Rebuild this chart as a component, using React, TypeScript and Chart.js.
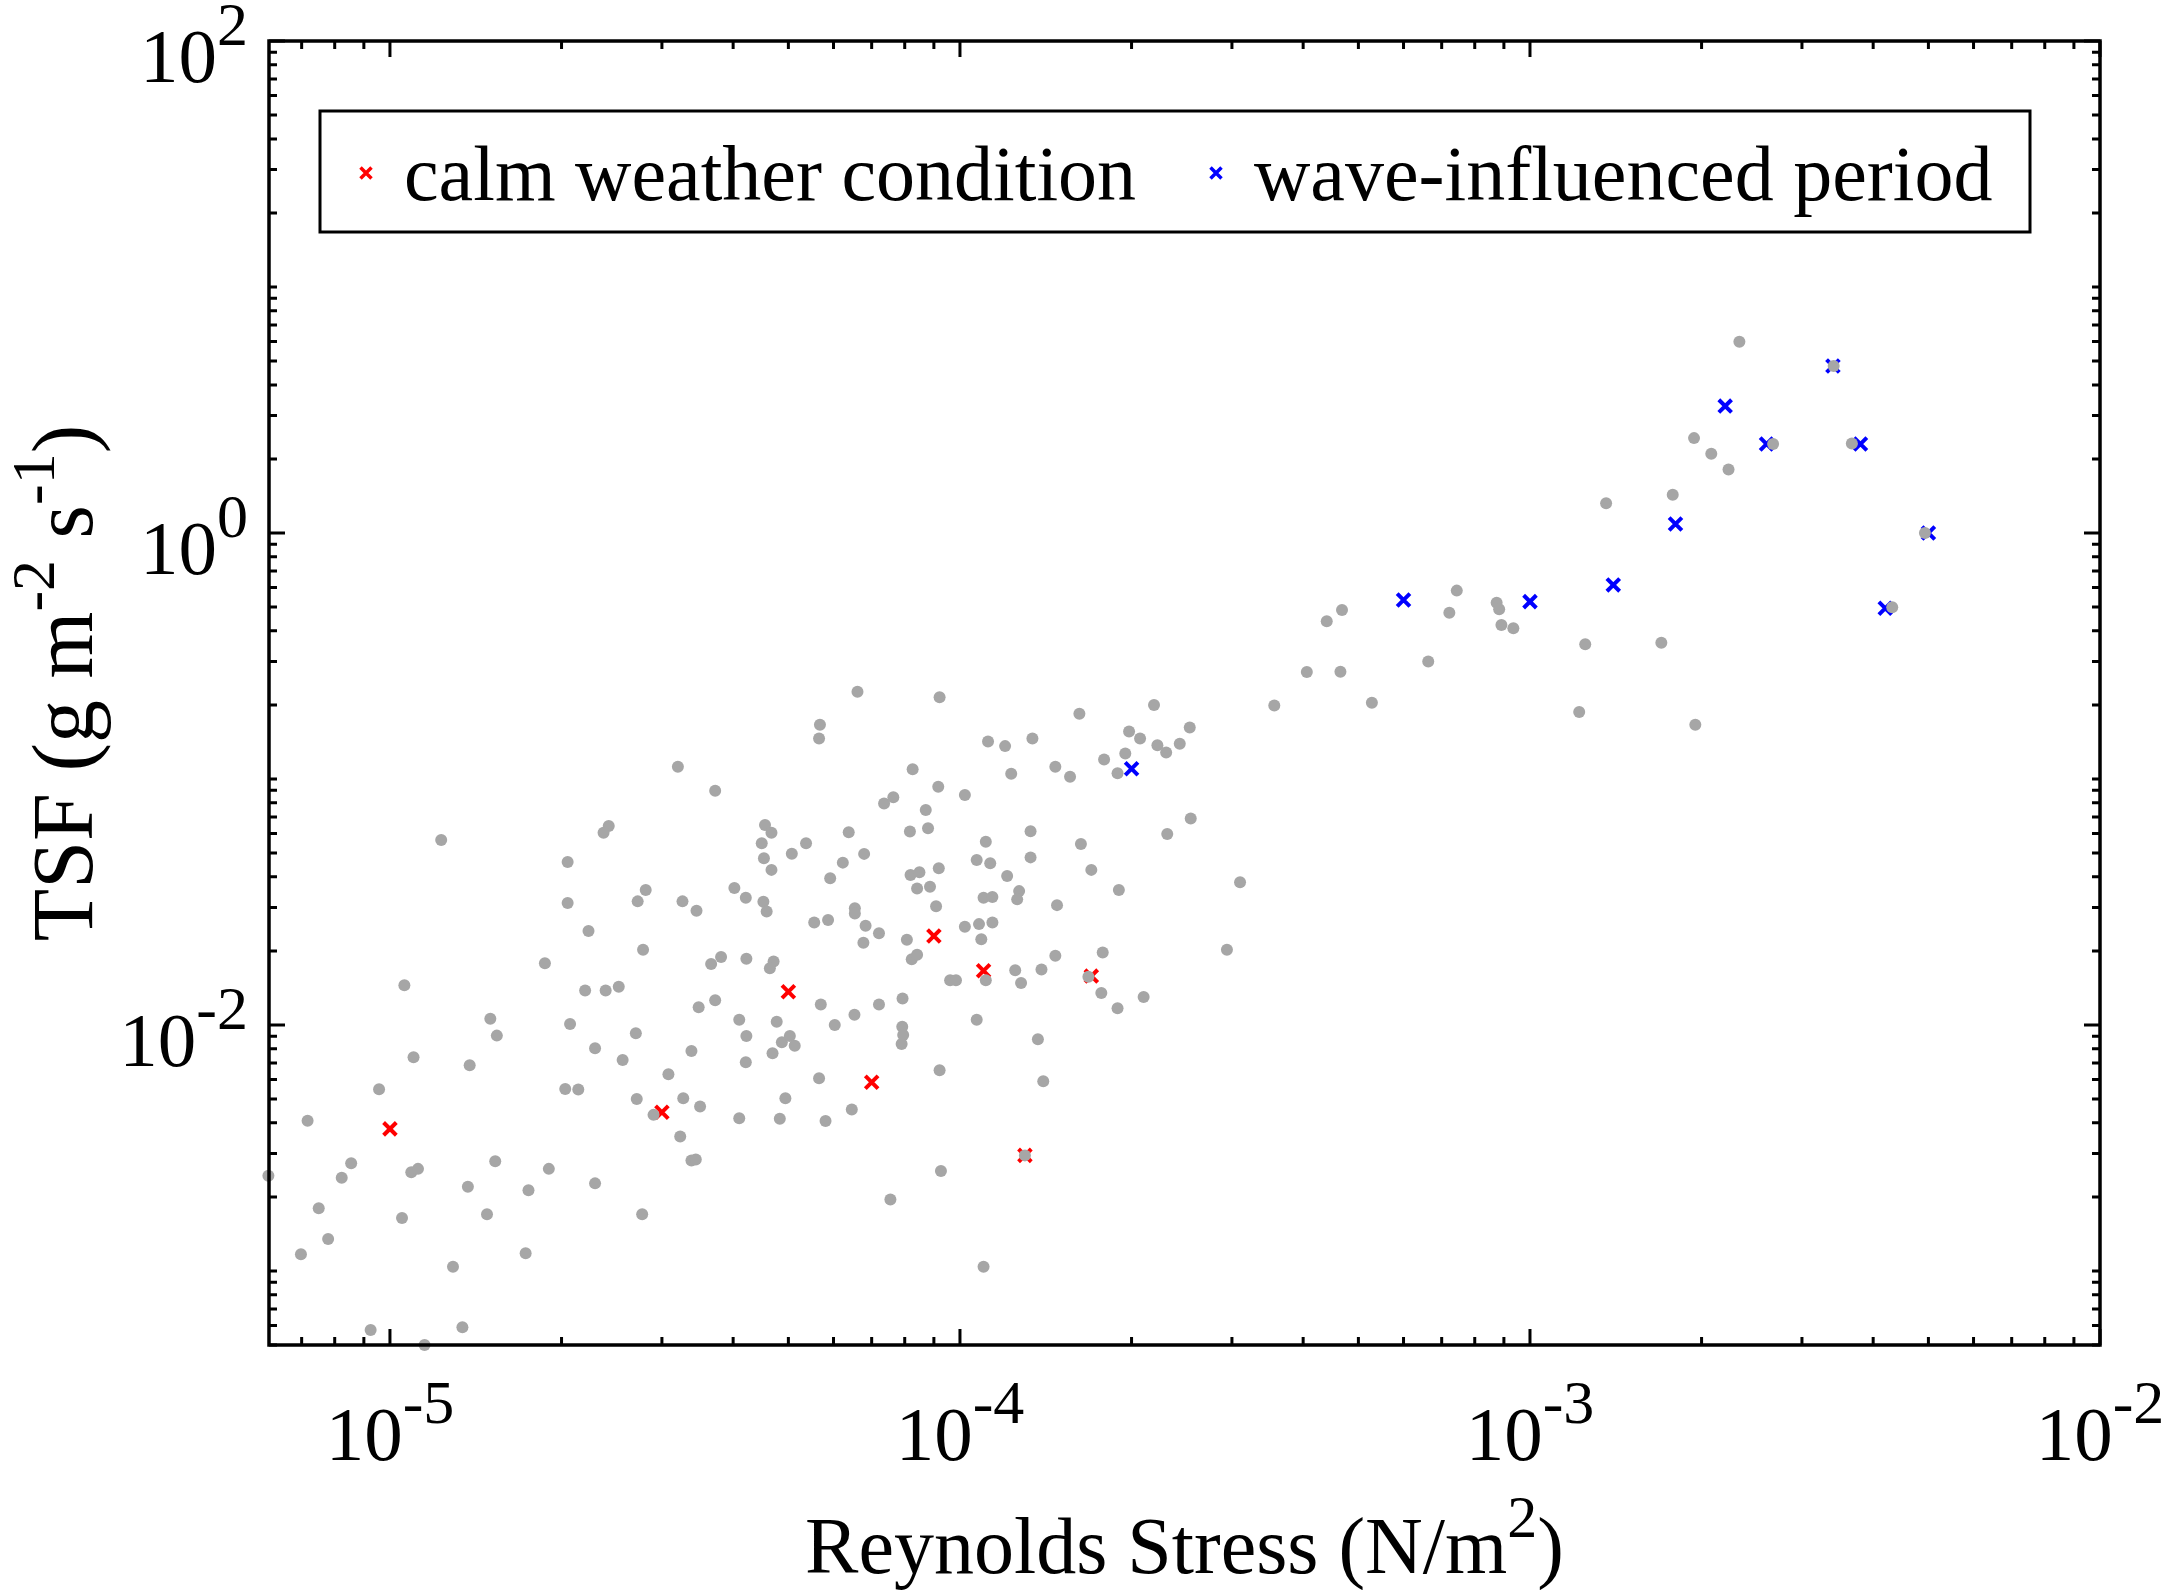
import React, { useEffect, useRef } from 'react';
import { Chart, registerables } from 'chart.js';

Chart.register(...registerables);

const W = 2165;
const H = 1590;
const FONT = '"Liberation Serif", "Times New Roman", serif';

// all measurements (gray dots)
const grayX = [
  3.2e-5, 3.72e-5, 2.42e-5, 2.37e-5, 1.23e-5, 2.05e-5, 2.05e-5, 2.81e-5, 2.72e-5, 3.26e-5,
  3.45e-5, 4.02e-5, 4.21e-5, 2.23e-5, 2.78e-5, 1.87e-5, 3.66e-5, 3.81e-5, 4.22e-5, 1.06e-5,
  2.2e-5, 2.39e-5, 2.52e-5, 1.5e-5, 1.54e-5, 2.07e-5, 2.7e-5, 2.29e-5, 2.56e-5, 3.38e-5,
  3.48e-5, 3.72e-5, 4.1e-5, 4.22e-5, 4.21e-5, 1.1e-5, 1.38e-5, 9.57e-6, 2.03e-5, 2.14e-5,
  3.08e-5, 2.71e-5, 3.27e-5, 3.5e-5, 2.9e-5, 4.1e-5, 7.17e-6, 3.23e-5, 8.55e-6, 8.23e-6,
  1.09e-5, 1.12e-5, 1.53e-5, 1.9e-5, 3.38e-5, 3.44e-5, 6.12e-6, 1.37e-5, 1.75e-5, 2.29e-5,
  7.5e-6, 1.05e-5, 1.48e-5, 2.77e-5, 7.79e-6, 6.98e-6, 1.73e-5, 1.29e-5, 9.25e-6, 1.34e-5,
  1.15e-5, 6.61e-5, 9.21e-5, 5.68e-5, 5.66e-5, 1.62e-4, 2.19e-4, 1.98e-4, 2.07e-4, 2.53e-4,
  2.22e-4, 2.3e-4, 2.43e-4, 1.12e-4, 1.2e-4, 1.34e-4, 1.95e-4, 1.79e-4, 1.89e-4, 1.47e-4,
  1.56e-4, 1.23e-4, 8.26e-5, 9.16e-5, 1.02e-4, 7.36e-5, 7.64e-5, 8.71e-5, 8.17e-5, 8.79e-5,
  6.38e-5, 4.55e-5, 4.67e-5, 4.49e-5, 5.37e-5, 5.07e-5, 6.79e-5, 4.53e-5, 4.67e-5, 6.23e-5,
  5.92e-5, 2.54e-4, 2.31e-4, 1.33e-4, 1.11e-4, 1.63e-4, 1.33e-4, 1.07e-4, 1.13e-4, 1.7e-4,
  9.18e-5, 8.19e-5, 8.49e-5, 1.21e-4, 1.9e-4, 3.1e-4, 8.41e-5, 8.86e-5, 1.1e-4, 1.14e-4,
  1.27e-4, 1.26e-4, 1.48e-4, 4.52e-5, 4.58e-5, 6.54e-5, 6.54e-5, 9.08e-5, 5.55e-5, 5.87e-5,
  6.83e-5, 7.21e-5, 1.02e-4, 1.08e-4, 1.14e-4, 8.07e-5, 1.09e-4, 6.77e-5, 1.78e-4, 1.47e-4,
  2.94e-4, 8.23e-5, 8.41e-5, 4.71e-5, 4.64e-5, 1.11e-4, 1.25e-4, 1.39e-4, 1.28e-4, 1.68e-4,
  9.61e-5, 9.84e-5, 1.77e-4, 2.1e-4, 7.93e-5, 5.7e-5, 7.21e-5, 4.77e-5, 6.03e-5, 6.53e-5,
  7.92e-5, 7.95e-5, 7.9e-5, 4.87e-5, 5.03e-5, 5.13e-5, 4.69e-5, 1.07e-4, 1.89e-4, 1.37e-4,
  1.4e-4, 9.21e-5, 5.66e-5, 4.94e-5, 4.83e-5, 5.81e-5, 6.46e-5, 1.3e-4, 9.26e-5, 7.55e-5,
  1.1e-4, 4.68e-4, 4.4e-4, 7.44e-4, 7.22e-4, 8.74e-4, 8.83e-4, 8.91e-4, 9.35e-4, 6.63e-4,
  4.06e-4, 4.65e-4, 5.28e-4, 3.56e-4, 2.33e-3, 3.41e-3, 1.94e-3, 2.08e-3, 2.23e-3, 2.67e-3,
  3.67e-3, 1.78e-3, 1.36e-3, 4.93e-3, 4.32e-3, 1.25e-3, 1.7e-3, 1.22e-3, 1.95e-3,
];
const grayY = [
  0.112, 0.0896, 0.0644, 0.0605, 0.0565, 0.046, 0.0313, 0.0354, 0.0318, 0.0318,
  0.0291, 0.036, 0.0329, 0.0241, 0.0202, 0.0178, 0.0177, 0.0189, 0.0186, 0.0145,
  0.0138, 0.0138, 0.0143, 0.0106, 0.00905, 0.0101, 0.00925, 0.00804, 0.0072, 0.00784,
  0.0118, 0.0126, 0.0105, 0.00902, 0.00705, 0.00739, 0.00686, 0.00548, 0.00549, 0.00546,
  0.0063, 0.005, 0.00504, 0.00466, 0.00431, 0.00418, 0.00408, 0.00352, 0.00274, 0.00239,
  0.00252, 0.0026, 0.00279, 0.0026, 0.00281, 0.00284, 0.00244, 0.0022, 0.00213, 0.00227,
  0.0018, 0.00164, 0.0017, 0.0017, 0.00135, 0.00117, 0.00118, 0.00104, 0.000576, 0.00059,
  0.0005, 0.226, 0.215, 0.166, 0.146, 0.184, 0.2, 0.156, 0.146, 0.162,
  0.137, 0.128, 0.139, 0.142, 0.136, 0.146, 0.127, 0.12, 0.1055, 0.112,
  0.102, 0.105, 0.1095, 0.093, 0.0861, 0.0794, 0.0842, 0.0748, 0.0611, 0.063,
  0.0607, 0.065, 0.0605, 0.0548, 0.0548, 0.0497, 0.0496, 0.0476, 0.0427, 0.0457,
  0.0395, 0.069, 0.0598, 0.0613, 0.0556, 0.0544, 0.048, 0.0468, 0.0454, 0.0427,
  0.0434, 0.0407, 0.0418, 0.0403, 0.0354, 0.038, 0.0359, 0.0365, 0.0329, 0.0331,
  0.035, 0.0324, 0.0307, 0.0317, 0.0289, 0.0298, 0.0284, 0.0304, 0.0261, 0.0267,
  0.0253, 0.0236, 0.0251, 0.0257, 0.0261, 0.0222, 0.0223, 0.0216, 0.0197, 0.0191,
  0.0202, 0.0185, 0.0193, 0.0181, 0.017, 0.0152, 0.0167, 0.0168, 0.0148, 0.0157,
  0.0152, 0.0152, 0.0135, 0.013, 0.0128, 0.0121, 0.0121, 0.0103, 0.01, 0.011,
  0.00984, 0.0091, 0.00837, 0.0085, 0.00902, 0.00824, 0.00767, 0.0105, 0.0117, 0.00875,
  0.0059, 0.00655, 0.00607, 0.00504, 0.00416, 0.00407, 0.00453, 0.00295, 0.00255, 0.00195,
  0.00104, 0.486, 0.438, 0.583, 0.474, 0.521, 0.49, 0.423, 0.41, 0.3,
  0.272, 0.273, 0.204, 0.199, 5.99, 4.77, 2.43, 2.1, 1.81, 2.3,
  2.31, 1.43, 1.32, 1.0, 0.499, 0.353, 0.358, 0.187, 0.166,
];

// calm weather condition (red crosses)
const calmX = [1e-5, 3e-5, 5e-5, 7e-5, 9e-5, 1.1e-4, 1.3e-4, 1.7e-4];
const calmY = [0.00378, 0.00442, 0.01365, 0.00585, 0.023, 0.0166, 0.00295, 0.0158];

// wave-influenced period (blue crosses)
const waveX = [2e-4, 6e-4, 1e-3, 1.4e-3, 1.8e-3, 2.2e-3, 2.6e-3, 3.4e-3, 3.8e-3, 4.2e-3, 5e-3];
const waveY = [0.11, 0.534, 0.526, 0.615, 1.088, 3.28, 2.3, 4.77, 2.3, 0.494, 1.0];

const xMajor = [1e-5, 1e-4, 1e-3, 1e-2];
const xMajorExp = ['-5', '-4', '-3', '-2'];
const yMajor = [100, 1, 0.01];
const yMajorExp = ['2', '0', '-2'];

const X_MIN = 6.135e-6;
const X_MAX = 1e-2;
const Y_MIN = 5e-4;
const Y_MAX = 100;

type Seg = { t: string; sup?: boolean };

const MAIN = 77;
const SUP = 62;
const RAISE = 37;

function segWidth(ctx: CanvasRenderingContext2D, segs: Seg[], size: number, sup: number) {
  let w = 0;
  segs.forEach(s => {
    ctx.font = `${s.sup ? sup : size}px ${FONT}`;
    w += ctx.measureText(s.t).width;
  });
  return w;
}

function drawSegs(ctx: CanvasRenderingContext2D, segs: Seg[], x: number, y: number, size: number, sup: number, raise: number) {
  let cx = x;
  ctx.textAlign = 'left';
  ctx.textBaseline = 'alphabetic';
  segs.forEach(s => {
    ctx.font = `${s.sup ? sup : size}px ${FONT}`;
    ctx.fillText(s.t, cx, s.sup ? y - raise : y);
    cx += ctx.measureText(s.t).width;
  });
}

function minorTicks(min: number, max: number, majors: number[]) {
  const out: number[] = [];
  for (let e = Math.floor(Math.log10(min)); e <= Math.ceil(Math.log10(max)); e++) {
    for (let m = 1; m < 10; m++) {
      const v = m * Math.pow(10, e);
      if (v >= min * 0.999 && v <= max * 1.001 && !majors.some(t => Math.abs(t - v) / t < 1e-6)) out.push(v);
    }
  }
  return out;
}

function legendCross(ctx: CanvasRenderingContext2D, x: number, y: number, color: string) {
  const d = 5.5;
  ctx.save();
  ctx.strokeStyle = color;
  ctx.lineWidth = 3.5;
  ctx.beginPath();
  ctx.moveTo(x - d, y - d);
  ctx.lineTo(x + d, y + d);
  ctx.moveTo(x + d, y - d);
  ctx.lineTo(x - d, y + d);
  ctx.stroke();
  ctx.restore();
}

const axesPlugin = {
  id: 'matlabAxes',
  afterDraw: (chart: any) => {
    const { ctx, chartArea, scales } = chart;
    const { left, right, top, bottom } = chartArea;
    const xs = scales.x;
    const ys = scales.y;
    ctx.save();
    ctx.strokeStyle = '#000';
    ctx.fillStyle = '#000';

    // ticks inside the box, on all four sides
    ctx.lineWidth = 3;
    const xTick = (v: number, len: number) => {
      const px = xs.getPixelForValue(v);
      ctx.beginPath();
      ctx.moveTo(px, bottom);
      ctx.lineTo(px, bottom - len);
      ctx.moveTo(px, top);
      ctx.lineTo(px, top + len);
      ctx.stroke();
    };
    const yTick = (v: number, len: number) => {
      const py = ys.getPixelForValue(v);
      ctx.beginPath();
      ctx.moveTo(left, py);
      ctx.lineTo(left + len, py);
      ctx.moveTo(right, py);
      ctx.lineTo(right - len, py);
      ctx.stroke();
    };
    minorTicks(X_MIN, X_MAX, xMajor).forEach(v => xTick(v, 8));
    xMajor.forEach(v => xTick(v, 16));
    minorTicks(Y_MIN, Y_MAX, yMajor).forEach(v => yTick(v, 8));
    yMajor.forEach(v => yTick(v, 16));

    ctx.lineWidth = 3.5;
    ctx.strokeRect(left, top, right - left, bottom - top);

    // tick labels
    xMajor.forEach((v, i) => {
      const segs: Seg[] = [{ t: '10' }, { t: xMajorExp[i], sup: true }];
      const w = segWidth(ctx, segs, MAIN, SUP);
      drawSegs(ctx, segs, xs.getPixelForValue(v) - w / 2, bottom + 115, MAIN, SUP, RAISE);
    });
    yMajor.forEach((v, i) => {
      const segs: Seg[] = [{ t: '10' }, { t: yMajorExp[i], sup: true }];
      const w = segWidth(ctx, segs, MAIN, SUP);
      drawSegs(ctx, segs, left - 21 - w, ys.getPixelForValue(v) + 41, MAIN, SUP, RAISE);
    });

    // x title
    const xt: Seg[] = [{ t: 'Reynolds Stress (N/m' }, { t: '2', sup: true }, { t: ')' }];
    const xtw = segWidth(ctx, xt, 80, 60);
    drawSegs(ctx, xt, (left + right) / 2 - xtw / 2, bottom + 228, 80, 60, 36);

    // y title
    const yt: Seg[] = [
      { t: 'TSF (g m' }, { t: '-2', sup: true }, { t: ' s' }, { t: '-1', sup: true }, { t: ')' },
    ];
    const ytw = segWidth(ctx, yt, 86, 62);
    ctx.save();
    ctx.translate(92, (top + bottom) / 2 - 10);
    ctx.rotate(-Math.PI / 2);
    drawSegs(ctx, yt, -ytw / 2, 0, 86, 62, 38);
    ctx.restore();

    // legend
    const lx = left + 51;
    const ly = top + 70;
    const lw = 1710;
    const lh = 121;
    ctx.fillStyle = '#fff';
    ctx.fillRect(lx, ly, lw, lh);
    ctx.lineWidth = 3;
    ctx.strokeRect(lx, ly, lw, lh);
    ctx.fillStyle = '#000';
    legendCross(ctx, lx + 46, ly + 62, '#ff0000');
    drawSegs(ctx, [{ t: 'calm weather condition' }], lx + 84, ly + 89, 78, 78, 0);
    legendCross(ctx, lx + 896, ly + 62, '#0000ff');
    drawSegs(ctx, [{ t: 'wave-influenced period' }], lx + 934, ly + 89, 78, 78, 0);

    ctx.restore();
  },
};

const App = () => {
  const canvasRef = useRef<HTMLCanvasElement>(null);
  const chartRef = useRef<Chart | null>(null);

  useEffect(() => {
    document.body.style.margin = '0';
    if (chartRef.current) chartRef.current.destroy();
    const ctx = canvasRef.current?.getContext('2d');
    if (!ctx) return;

    chartRef.current = new Chart(ctx, {
      type: 'scatter',
      data: {
        datasets: [
          {
            label: 'all',
            data: grayX.map((x, i) => ({ x, y: grayY[i] })),
            pointRadius: 6,
            pointHoverRadius: 6,
            pointBackgroundColor: 'rgb(166,166,166)',
            pointBorderWidth: 0,
            order: 0,
            clip: false,
          },
          {
            label: 'calm weather condition',
            data: calmX.map((x, i) => ({ x, y: calmY[i] })),
            pointStyle: 'crossRot',
            pointRadius: 9,
            pointHoverRadius: 9,
            pointBorderColor: '#ff0000',
            pointBorderWidth: 4,
            order: 1,
            clip: false,
          },
          {
            label: 'wave-influenced period',
            data: waveX.map((x, i) => ({ x, y: waveY[i] })),
            pointStyle: 'crossRot',
            pointRadius: 9,
            pointHoverRadius: 9,
            pointBorderColor: '#0000ff',
            pointBorderWidth: 4,
            order: 1,
            clip: false,
          },
        ],
      },
      options: {
        responsive: false,
        devicePixelRatio: 1,
        animation: false,
        events: [],
        layout: {
          padding: { left: 269, top: 41, right: W - 2100, bottom: H - 1345 },
        },
        scales: {
          x: { type: 'logarithmic', min: X_MIN, max: X_MAX, display: false },
          y: { type: 'logarithmic', min: Y_MIN, max: Y_MAX, display: false },
        },
        plugins: {
          legend: { display: false },
          tooltip: { enabled: false },
        },
      },
      plugins: [axesPlugin],
    });

    return () => {
      if (chartRef.current) {
        chartRef.current.destroy();
        chartRef.current = null;
      }
    };
  }, []);

  return (
    <div style={{ width: W, height: H, background: '#fff' }}>
      <canvas ref={canvasRef} width={W} height={H} style={{ display: 'block' }} />
    </div>
  );
};

export default App;
